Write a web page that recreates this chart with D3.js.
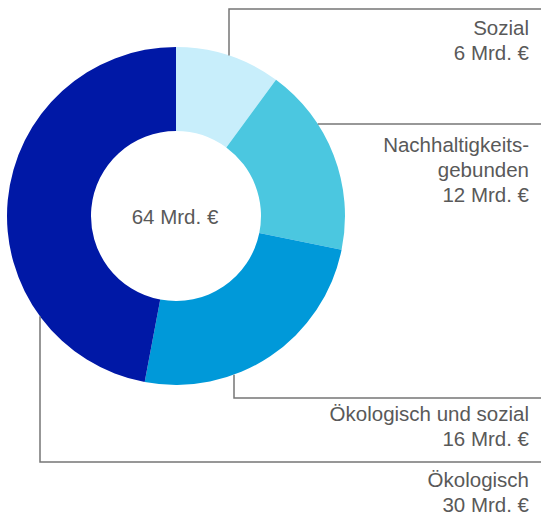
<!DOCTYPE html>
<html>
<head>
<meta charset="utf-8">
<script src="https://cdn.jsdelivr.net/npm/d3@7"></script>
<style>
  body { margin: 0; background: #fff; }
  text { font-family: "Liberation Sans", Arial, sans-serif; fill: #595959; }
</style>
</head>
<body>
<script>
  // data, clockwise from 12 o'clock
  var categories = ["Sozial", "Nachhaltigkeits-\ngebunden", "Ökologisch und sozial", "Ökologisch"];
  // labels are rounded, slice sizes as measured off the ring
  var labelValues = [6, 12, 16, 30];
  var sliceValues = [6.45, 11.6, 15.85, 30.1];
  var totalLabel = 64;
  var colors = ["#c8eefb", "#4bc7e0", "#0099d9", "#0018a6"];
  var unit = " Mrd. €";

  var width = 541,
    height = 517,
    cx = 176,
    cy = 216,
    outerR = 169,
    innerR = 85;

  var svg = d3.select("body").append("svg")
    .attr("width", width)
    .attr("height", height);

  var g = svg.append("g")
    .attr("transform", "translate(" + cx + "," + cy + ")");

  var pie = d3.pie().sort(null);
  var arc = d3.arc().innerRadius(innerR).outerRadius(outerR);

  g.selectAll("path")
    .data(pie(sliceValues))
    .enter().append("path")
    .attr("fill", function(d, i) { return colors[i]; })
    .attr("d", arc);

  g.append("text")
    .attr("x", -1)
    .attr("y", 8)
    .attr("text-anchor", "middle")
    .style("font-size", "20.5px")
    .text(totalLabel + unit);

  // leader lines: vertical from the ring edge at x then across at y,
  // or straight across from the ring edge at y
  var leaders = [
    { x: 229, y: 9, dir: "v", up: true, labelY: 35 },
    { y: 124, dir: "h", labelY: 152 },
    { x: 234, y: 398, dir: "v", up: false, labelY: 421 },
    { x: 40, y: 462, dir: "v", up: false, labelY: 487 }
  ];

  var lineColor = "#767676";
  var rightX = 529;

  leaders.forEach(function(l, i) {
    var pts;
    if (l.dir === "v") {
      var dx = l.x - cx;
      var dy = Math.sqrt(outerR * outerR - dx * dx);
      var y0 = l.up ? cy - dy : cy + dy;
      pts = [[l.x, y0], [l.x, l.y], [width, l.y]];
    } else {
      var dy2 = l.y - cy;
      var x0 = cx + Math.sqrt(outerR * outerR - dy2 * dy2);
      pts = [[x0, l.y], [width, l.y]];
    }
    svg.append("path")
      .attr("d", d3.line()(pts))
      .attr("fill", "none")
      .attr("stroke", lineColor)
      .attr("stroke-width", 1.5);

    var lines = categories[i].split("\n").concat([labelValues[i] + unit]);
    var t = svg.append("text")
      .attr("text-anchor", "end")
      .style("font-size", "20.5px");
    lines.forEach(function(s, j) {
      t.append("tspan")
        .attr("x", rightX)
        .attr("y", l.labelY + j * 25)
        .text(s);
    });
  });
</script>
</body>
</html>
